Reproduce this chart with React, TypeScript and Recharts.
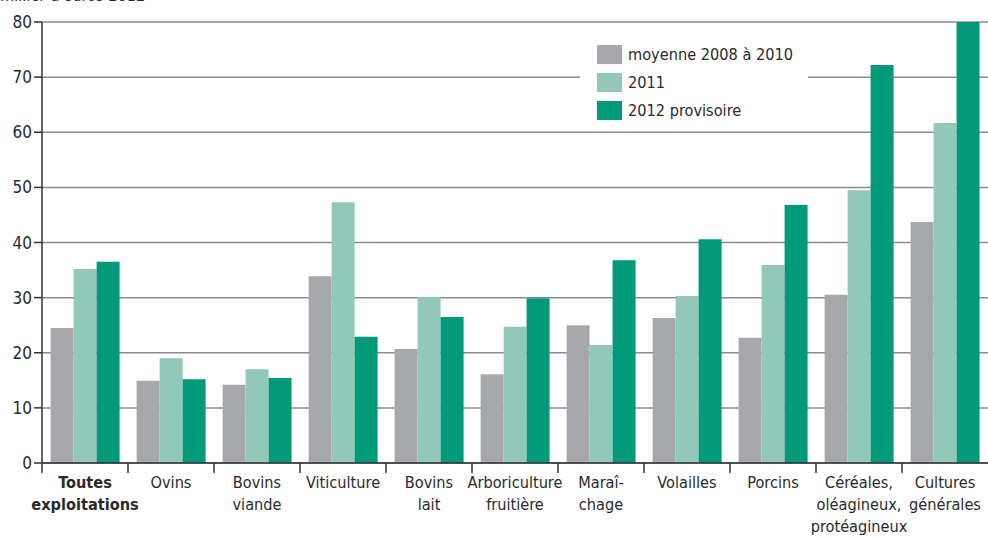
import React from "react";
import { BarChart, Bar, XAxis, YAxis, CartesianGrid } from "recharts";

const categories = [
  "Toutes\nexploitations",
  "Ovins",
  "Bovins\nviande",
  "Viticulture",
  "Bovins\nlait",
  "Arboriculture\nfruitière",
  "Maraî-\nchage",
  "Volailles",
  "Porcins",
  "Céréales,\noléagineux,\nprotéagineux",
  "Cultures\ngénérales",
];
const moyenne = [24.5, 14.9, 14.2, 33.9, 20.7, 16.1, 25.0, 26.3, 22.7, 30.5, 43.7];
const y2011 = [35.2, 19.0, 17.0, 47.3, 30.1, 24.7, 21.4, 30.3, 35.9, 49.5, 61.7];
const y2012 = [36.5, 15.2, 15.4, 22.9, 26.5, 29.9, 36.8, 40.6, 46.8, 72.2, 80.0];
const yTicks = [0, 10, 20, 30, 40, 50, 60, 70, 80];
const seriesNames = ["moyenne 2008 à 2010", "2011", "2012 provisoire"];
const colors = ["#a7a8ab", "#92c8b9", "#009a7a"];

const data = categories.map((c, i) => ({
  name: c,
  moyenne: moyenne[i],
  y2011: y2011[i],
  y2012: y2012[i],
}));

const FONT = "'DejaVu Sans Condensed', Roboto, sans-serif";
const FS = 16.2;

const XTick = (props: any) => {
  const { x, y, payload, index } = props;
  const lines = String(payload.value).split("\n");
  const half = 946 / 11 / 2;
  return (
    <g>
      <line x1={x - half} x2={x - half} y1={y - 8} y2={y + 2} stroke="#333" strokeWidth={1.5} />
      <text
        x={x}
        y={y + 17}
        textAnchor="middle"
        fill="#2a2a2a"
        fontSize={FS}
        fontFamily={FONT}
        fontWeight={index === 0 ? "bold" : "normal"}
      >
        {lines.map((l, i) => (
          <tspan key={i} x={x} dy={i === 0 ? 0 : 22}>
            {l}
          </tspan>
        ))}
      </text>
    </g>
  );
};

export default function App() {
  return (
    <div style={{ position: "absolute", left: 0, top: 0, width: 988, height: 539, background: "#fff", overflow: "visible" }}>
      <div
        style={{
          position: "absolute",
          left: 0,
          top: -14,
          fontFamily: FONT,
          fontSize: FS,
          color: "#2a2a2a",
          lineHeight: "20px",
          zIndex: 2,
        }}
      >
        millier d'euros 2012
      </div>
      <BarChart
        width={988}
        height={539}
        data={data}
        margin={{ top: 22, right: 0, bottom: 0, left: 0 }}
        barCategoryGap="10%"
        barGap={0}
        style={{ overflow: "visible" }}
      >
        <CartesianGrid vertical={false} stroke="#8c8c8c" strokeWidth={1.5} />
        <XAxis
          dataKey="name"
          interval={0}
          height={76}
          tick={<XTick />}
          tickLine={false}
          axisLine={{ stroke: "#333", strokeWidth: 1.5 }}
        />
        <YAxis
          domain={[0, 80]}
          ticks={yTicks}
          width={42}
          interval={0}
          tickSize={8}
          tickLine={{ stroke: "#333", strokeWidth: 1.5 }}
          axisLine={{ stroke: "#333", strokeWidth: 1.5 }}
          tick={{ fill: "#2a2a2a", fontSize: 17, fontFamily: FONT }}
          tickMargin={2}
        />
        <Bar dataKey="moyenne" name={seriesNames[0]} fill={colors[0]} isAnimationActive={false} />
        <Bar dataKey="y2011" name={seriesNames[1]} fill={colors[1]} isAnimationActive={false} />
        <Bar dataKey="y2012" name={seriesNames[2]} fill={colors[2]} isAnimationActive={false} />
      </BarChart>
      <div
        style={{
          position: "absolute",
          left: 580,
          top: 37,
          background: "#fff",
          width: 228,
          height: 94,
          boxSizing: "border-box",
          paddingLeft: 17,
          paddingTop: 3,
          fontFamily: FONT,
          fontSize: FS,
          color: "#2a2a2a",
        }}
      >
        {seriesNames.map((n, i) => (
          <div key={n} style={{ display: "flex", alignItems: "center", height: 28, whiteSpace: "nowrap" }}>
            <div style={{ width: 25, height: 19, background: colors[i], marginRight: 6, flexShrink: 0 }} />
            <span>{n}</span>
          </div>
        ))}
      </div>
    </div>
  );
}
